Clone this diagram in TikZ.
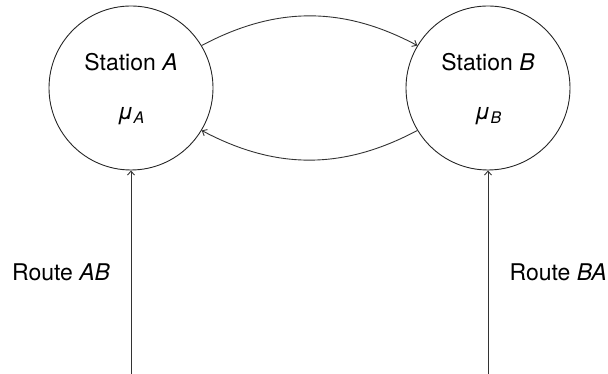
\documentclass[tikz,border=0pt]{standalone}
\usepackage{fontspec}
\setmainfont{TeX Gyre Heros}
\usetikzlibrary{arrows.meta}
\begin{document}
\begin{tikzpicture}[x=1pt,y=1pt,
  station/.style={circle,draw=black!85,line width=0.9pt,minimum size=164pt,inner sep=0pt},
  conn/.style={draw=black!80,line width=0.9pt,-{Straight Barb[length=4pt,width=7pt]}},
  lbl/.style={font=\fontsize{23}{27}\selectfont,inner sep=0pt,anchor=base},
]
\useasboundingbox (0,0) rectangle (608,374);
\node[station] (A) at (131,286) {};
\node[station] (B) at (488,286) {};
\node[lbl] (tA) at (131,303) {Station \textit{A}};
\node[lbl] (tB) at (488,303) {Station \textit{B}};
\node[lbl] (mA) at (131,254) {\textit{μ}\raisebox{-0.25ex}{\fontsize{16}{19}\selectfont\textit{A}}};
\node[lbl] (mB) at (488,254) {\textit{μ}\raisebox{-0.25ex}{\fontsize{16}{19}\selectfont\textit{B}}};
\node[lbl,anchor=base west] (rAB) at (12,93) {Route \textit{AB}};
\node[lbl,anchor=base east] (rBA) at (607,93) {Route \textit{BA}};
\coordinate (inA) at (131,0);
\coordinate (inB) at (488,0);
\draw[conn] (inA) -- (A.south);
\draw[conn] (inB) -- (B.south);
\draw[conn] (A.31) to[bend left=28] (B.149);
\draw[conn] (B.211) to[bend left=28] (A.329);
\end{tikzpicture}
\end{document}
